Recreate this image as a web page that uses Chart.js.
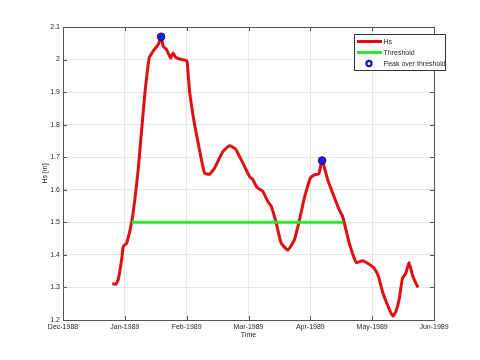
<!DOCTYPE html>
<html>
<head>
<meta charset="utf-8">
<script src="https://cdn.jsdelivr.net/npm/chart.js@4/dist/chart.umd.min.js"></script>
<style>
  html, body { margin: 0; padding: 0; background: #fff; }
  #wrap { width: 480px; height: 360px; }
</style>
</head>
<body>
<div id="wrap"><canvas id="hsChart" width="480" height="360"></canvas></div>
<script>
// x values are days counted from Dec-1988 (axis ticks every 31 days)
const monthLabels = ["Dec-1988", "Jan-1989", "Feb-1989", "Mar-1989", "Apr-1989", "May-1989", "Jun-1989"];
const yTicks = [1.2, 1.3, 1.4, 1.5, 1.6, 1.7, 1.8, 1.9, 2.0, 2.1];

const hsDays = [24.7, 26.5, 27.7, 29.4, 30.2, 31.9, 34.4, 36, 37.7, 39, 41, 43.2, 45.2, 47.7, 49.2,
    50.2, 51.9, 53.9, 55.2, 56.5, 59.4, 61.5, 62.2, 63.5, 66, 69.4, 71, 73.5, 76, 80.2, 83.5, 86.5,
    90.2, 93.5, 95.2, 97.2, 100.2, 102.7, 104.4, 106.9, 109.4, 112.7, 116, 118.2, 121, 124, 126,
    128.2, 129.9, 132.7, 135.2, 138.5, 140.2, 143.5, 146, 147.2, 150.2, 152.7, 156, 158.2, 160.2,
    162.7, 164.4, 165.5, 166.9, 168.5, 170.2, 171.9, 173.5, 175.2, 176.9, 178];
const hsValues = [1.312, 1.31, 1.325, 1.385, 1.426, 1.436, 1.50, 1.569, 1.662, 1.754, 1.892, 2.005,
    2.026, 2.046, 2.07, 2.041, 2.031, 2.005, 2.02, 2.007, 2.0, 1.998, 1.995, 1.90, 1.80, 1.692, 1.651,
    1.648, 1.667, 1.718, 1.735, 1.725, 1.682, 1.641, 1.631, 1.608, 1.595, 1.564, 1.549, 1.498, 1.436,
    1.415, 1.446, 1.498, 1.574, 1.636, 1.646, 1.648, 1.69, 1.631, 1.59, 1.538, 1.518, 1.436, 1.39,
    1.376, 1.382, 1.374, 1.359, 1.333, 1.287, 1.246, 1.222, 1.212, 1.226, 1.262, 1.328, 1.344, 1.376,
    1.338, 1.313, 1.30];

const thresholdDays = [34.4, 140.5];
const thresholdValue = 1.5;

const peakDays = [49.2, 129.9];
const peakValues = [2.07, 1.69];

const FONT = "'Liberation Sans', Arial, sans-serif";
const TXT = "#262626";

// Box, inward ticks and the legend, drawn like the MATLAB figure
const framePlugin = {
    id: "frame",
    afterDatasetsDraw(chart) {
        const { ctx, chartArea: a, scales } = chart;
        ctx.save();
        ctx.strokeStyle = "#555";
        ctx.lineWidth = 1;
        ctx.strokeRect(Math.round(a.left) + 0.5, Math.round(a.top) + 0.5,
            Math.round(a.right - a.left), Math.round(a.bottom - a.top));
        ctx.beginPath();
        monthLabels.forEach((m, i) => {
            const x = Math.round(scales.x.getPixelForValue(i * 31)) + 0.5;
            ctx.moveTo(x, a.bottom); ctx.lineTo(x, a.bottom - 4);
            ctx.moveTo(x, a.top); ctx.lineTo(x, a.top + 4);
        });
        yTicks.forEach(v => {
            const y = Math.round(scales.y.getPixelForValue(v)) + 0.5;
            ctx.moveTo(a.left, y); ctx.lineTo(a.left + 4, y);
            ctx.moveTo(a.right, y); ctx.lineTo(a.right - 4, y);
        });
        ctx.stroke();

        // legend
        const lx = 354.5, ly = 34.5, lw = 91, lh = 36;
        ctx.fillStyle = "#fff";
        ctx.fillRect(lx, ly, lw, lh);
        ctx.strokeStyle = "#333";
        ctx.strokeRect(lx, ly, lw, lh);
        ctx.font = "7px " + FONT;
        ctx.textBaseline = "middle";
        ctx.textAlign = "left";
        const rows = [
            { label: "Hs", y: 41.5, kind: "line", color: "#dd1111" },
            { label: "Threshold", y: 52.5, kind: "line", color: "#2ee62e" },
            { label: "Peak over threshold", y: 63.5, kind: "point" }
        ];
        rows.forEach(r => {
            if (r.kind === "line") {
                ctx.strokeStyle = r.color;
                ctx.lineWidth = 3;
                ctx.beginPath();
                ctx.moveTo(357, r.y); ctx.lineTo(382, r.y);
                ctx.stroke();
            } else {
                ctx.strokeStyle = "#1515c8";
                ctx.fillStyle = "#fff";
                ctx.lineWidth = 2.2;
                ctx.beginPath();
                ctx.arc(369, r.y, 2.6, 0, Math.PI * 2);
                ctx.fill();
                ctx.stroke();
            }
            ctx.fillStyle = TXT;
            ctx.fillText(r.label, 383.5, r.y + 0.5);
        });
        ctx.restore();
    }
};

const ctx = document.getElementById("hsChart").getContext("2d");
new Chart(ctx, {
    type: "line",
    data: {
        datasets: [
            {
                label: "Hs",
                data: hsDays.map((d, i) => ({ x: d, y: hsValues[i] })),
                borderColor: "#dd1111",
                borderWidth: 3,
                pointRadius: 0,
                tension: 0.15,
                order: 3
            },
            {
                label: "Threshold",
                data: thresholdDays.map(d => ({ x: d, y: thresholdValue })),
                borderColor: "#2ee62e",
                borderWidth: 3,
                pointRadius: 0,
                order: 2
            },
            {
                label: "Peak over threshold",
                data: peakDays.map((d, i) => ({ x: d, y: peakValues[i] })),
                showLine: false,
                pointRadius: 3.8,
                pointBackgroundColor: "#1f1fe0",
                pointBorderColor: "#12127a",
                pointBorderWidth: 1,
                order: 1
            }
        ]
    },
    options: {
        responsive: false,
        animation: false,
        events: [],
        layout: { padding: { left: 40, top: 27, right: 46, bottom: 20 } },
        plugins: { legend: { display: false }, tooltip: { enabled: false } },
        scales: {
            x: {
                type: "linear",
                min: 0,
                max: 186,
                afterFit: s => { s.height = 20; },
                afterBuildTicks: s => { s.ticks = monthLabels.map((m, i) => ({ value: i * 31 })); },
                ticks: {
                    callback: v => monthLabels[Math.round(v / 31)],
                    font: { family: FONT, size: 7 },
                    color: TXT,
                    padding: 3,
                    maxRotation: 0,
                    autoSkip: false
                },
                grid: { color: "#e6e6e6", drawTicks: false },
                border: { display: false },
                title: {
                    display: true,
                    text: "Time",
                    font: { family: FONT, size: 7 },
                    color: TXT,
                    padding: { top: 0, bottom: 1 }
                }
            },
            y: {
                min: 1.2,
                max: 2.1,
                afterFit: s => { s.width = 23; },
                afterBuildTicks: s => { s.ticks = yTicks.map(v => ({ value: v })); },
                ticks: {
                    callback: v => String(+v.toFixed(1)),
                    font: { family: FONT, size: 7 },
                    color: TXT,
                    padding: 3
                },
                grid: { color: "#e6e6e6", drawTicks: false },
                border: { display: false },
                title: {
                    display: true,
                    text: "Hs [m]",
                    font: { family: FONT, size: 7 },
                    color: TXT,
                    padding: { top: 1, bottom: 0 }
                }
            }
        }
    },
    plugins: [framePlugin]
});
</script>
</body>
</html>
